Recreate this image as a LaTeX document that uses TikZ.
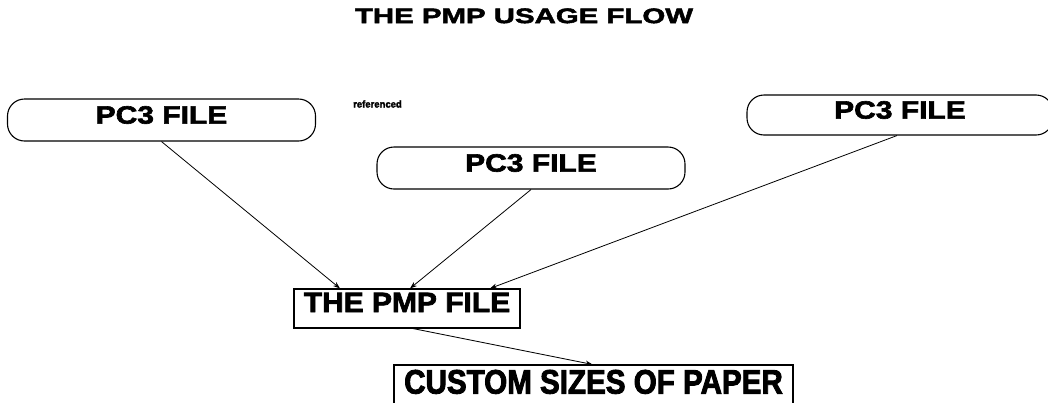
\documentclass[tikz,border=0pt]{standalone}
\usepackage{fontspec}
\usepackage{tikz}
\usetikzlibrary{arrows.meta, positioning}
\newfontfamily\flowfont{Liberation Sans}[UprightFont=* Bold, FakeBold=2.5]
\newcommand{\flowsize}[2]{\flowfont\fontsize{#1}{#1}\selectfont\addfontfeatures{FakeStretch=#2}}

\begin{document}
\begin{tikzpicture}[x=1pt, y=-1pt,
  every node/.style={inner sep=0pt, text height=0.72em, text depth=0pt},
  filebox/.style={draw, line width=1.1pt, rounded corners=17pt, minimum width=308pt, minimum height=42pt, font=\flowsize{25}{1.2}},
  pmpbox/.style={draw, line width=1.1pt, minimum width=226pt, minimum height=39pt, font=\flowsize{28}{1.07}},
  sizebox/.style={draw, line width=1.1pt, minimum width=399pt, minimum height=50pt, font=\flowsize{34}{0.87}},
  flowarrow/.style={-{Stealth[length=7pt,width=5pt]}, line width=0.8pt}]

\useasboundingbox (0,0) rectangle (1048,402);

% Title
\node[font=\flowsize{21}{1.4}] (title) at (524,19.5) {THE PMP USAGE FLOW};

% PC3 files
\node[filebox] (pc3a) at (161.5,120) {PC3 FILE};
\node[filebox] (pc3b) at (531,168) {PC3 FILE};
\node[filebox, minimum width=306pt, minimum height=40pt] (pc3c) at (900,115) {PC3 FILE};
\node[anchor=west, font=\flowsize{10}{0.95}] (ref) at (353,104) {referenced};

% PMP file and paper sizes
\node[pmpbox] (pmp) at (407,308.5) {THE PMP FILE};
\node[sizebox] (sizes) at (593.5,390) {CUSTOM SIZES OF PAPER};

% Connections: PC3 to PMP
\draw[flowarrow] (pc3a.south) -- ([xshift=-67pt]pmp.north);
\draw[flowarrow] (pc3b.south) -- ([xshift=3pt]pmp.north);
\draw[flowarrow] ([xshift=-3pt]pc3c.south) -- ([xshift=83pt]pmp.north);

% Connection: PMP to paper sizes
\draw[flowarrow] ([xshift=6pt]pmp.south) -- ([xshift=-1pt]sizes.north);
\end{tikzpicture}
\end{document}
